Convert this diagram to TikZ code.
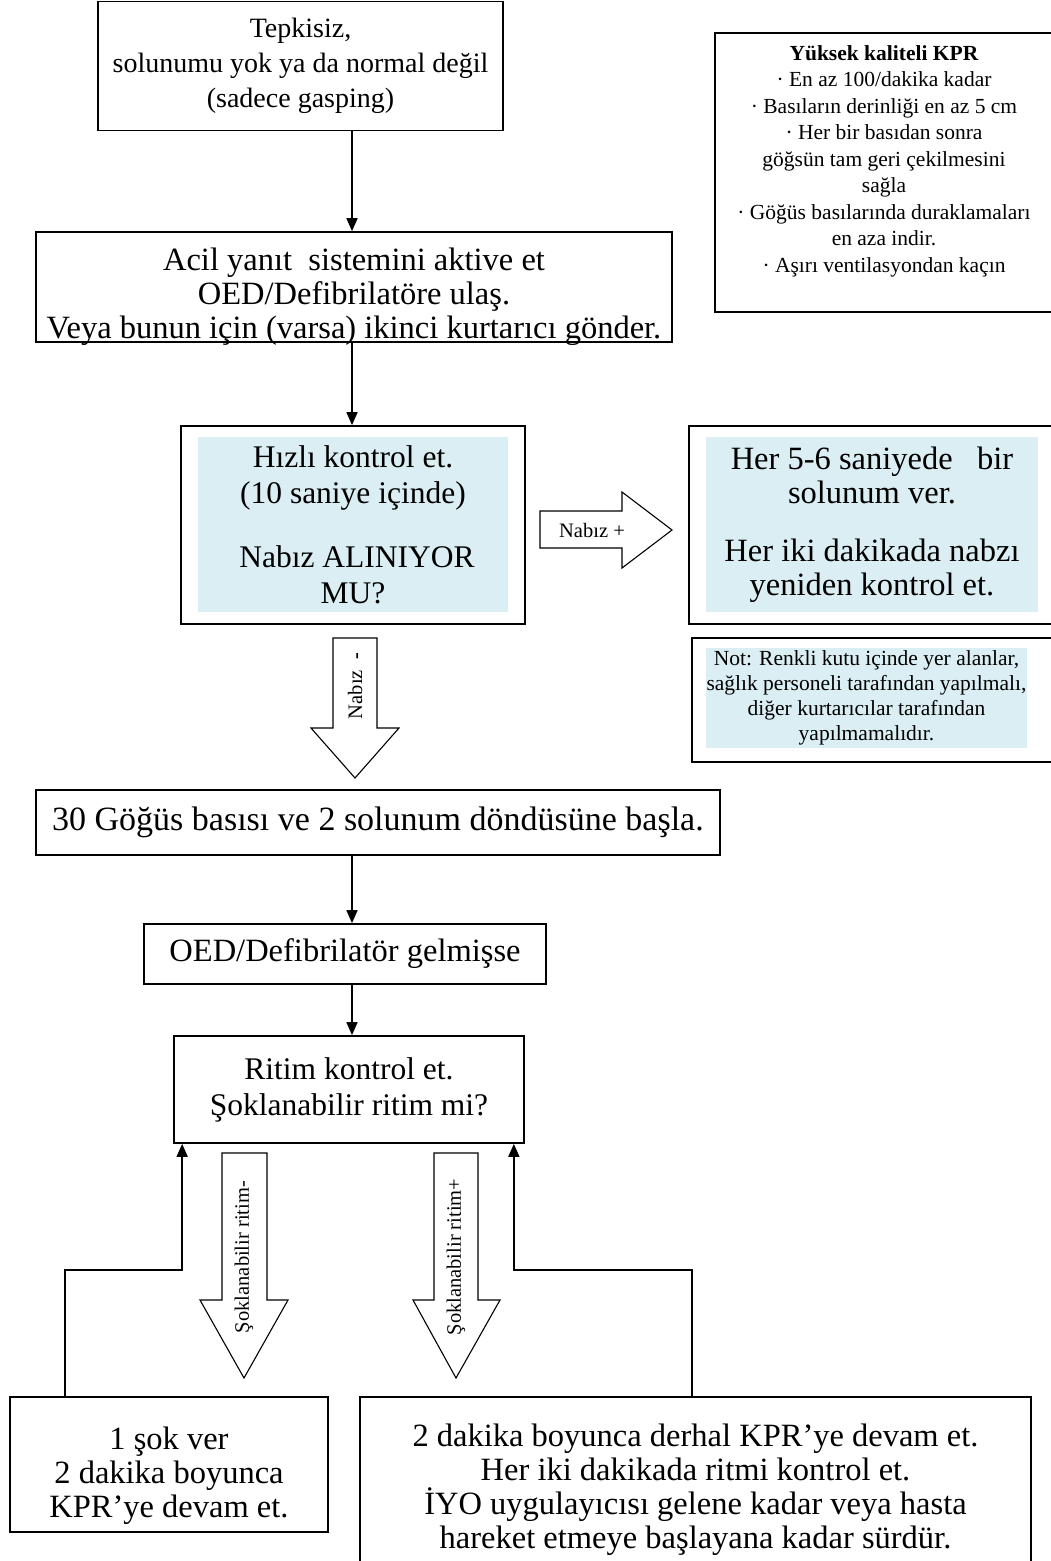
\documentclass[tikz,border=0pt]{standalone}
\usepackage{fontspec}
\setmainfont{Liberation Serif}
\usetikzlibrary{arrows.meta, calc}
\definecolor{paleblue}{RGB}{218, 238, 243}

\newcommand{\toptxt}{\fontsize{28}{35}\selectfont}
\newcommand{\bigtxt}{\fontsize{32.5}{34}\selectfont}
\newcommand{\widetxt}{\fontsize{34}{35}\selectfont}
\newcommand{\checkfont}{\fontsize{31.5}{36}\selectfont}
\newcommand{\notetxt}{\fontsize{21.5}{25}\selectfont}
\newcommand{\kprtxt}{\fontsize{21.5}{26.5}\selectfont}
\newcommand{\lbltxt}{\fontsize{20.5}{24}\selectfont}

\begin{document}
\begin{tikzpicture}[x=1pt, y=-1pt,
  box/.style={draw, line width=1.7pt, inner sep=0pt},
  txt/.style={align=center, font=\bigtxt},
  shade/.style={fill=paleblue, inner sep=0pt, align=center, font=\bigtxt},
  arr/.style={line width=1.7pt, -{Triangle[length=13pt, width=11pt]}},
  blockarrow/.style={draw, line width=1.1pt, fill=white},
  lbl/.style={font=\lbltxt, inner sep=0pt}]

  \useasboundingbox (0,0) rectangle (1051,1561);

  % left column
  \node[box, txt, font=\toptxt, minimum width=405pt, minimum height=129pt] (tepki) at (300.5,66) {Tepkisiz,\\solunumu yok ya da normal değil\\(sadece gasping)};

  \node[box, minimum width=636pt, minimum height=110pt] (alarm) at (354,287) {};
  \node[txt] (alarmtxt) at (354,297) {Acil yanıt\ \ sistemini aktive et\\OED/Defibrilatöre ulaş.\\Veya bunun için (varsa) ikinci kurtarıcı gönder.};

  \node[box, minimum width=344pt, minimum height=198pt] (check) at (353,525) {};
  \node[shade, font=\checkfont, minimum width=310pt, minimum height=175pt] (checktxt) at (353,524.5) {Hızlı kontrol et.\\(10 saniye içinde)\\[28pt]\ Nabız ALINIYOR\\MU?};

  \node[box, txt, font=\widetxt, minimum width=684pt, minimum height=65pt] (cpr) at (378,822.5) {30 Göğüs basısı ve 2 solunum döndüsüne başla.};
  \node[box, txt, minimum width=402pt, minimum height=60pt] (oed) at (345,954) {OED/Defibrilatör gelmişse};
  \node[box, txt, font=\checkfont, minimum width=350pt, minimum height=107pt] (ritim) at (349,1089.5) {Ritim kontrol et.\\Şoklanabilir ritim mi?};

  % bottom row
  \node[box, minimum width=318pt, minimum height=135pt] (shock) at (169,1464.5) {};
  \node[txt] (shocktxt) at (169,1476) {1 şok ver\\2 dakika boyunca\\KPR’ye devam et.};

  \node[box, minimum width=671pt, minimum height=165pt] (cont) at (695.5,1479.5) {};
  \node[txt] (conttxt) at (695.5,1490) {2 dakika boyunca derhal KPR’ye devam et.\\Her iki dakikada ritmi kontrol et.\\İYO uygulayıcısı gelene kadar veya hasta\\hareket etmeye başlayana kadar sürdür.};

  % right column
  \node[box, minimum width=341pt, minimum height=279pt] (kpr) at (885.5,172.5) {};
  \node[align=center, font=\kprtxt] (kprlist) at (884,161) {\textbf{Yüksek kaliteli KPR}\\· En az 100/dakika kadar\\· Basıların derinliği en az 5 cm\\· Her bir basıdan sonra\\göğsün tam geri çekilmesini\\sağla\\· Göğüs basılarında duraklamaları\\en aza indir.\\· Aşırı ventilasyondan kaçın};

  \node[box, minimum width=366pt, minimum height=198pt] (breath) at (872,525) {};
  \node[shade, minimum width=332pt, minimum height=175pt] (breathtxt) at (872,524.5) {Her 5-6 saniyede\ \ \ bir\\solunum ver.\\[24pt]Her iki dakikada nabzı\\yeniden kontrol et.};

  \node[box, minimum width=363pt, minimum height=124pt] (note) at (873.5,700) {};
  \node[shade, font=\notetxt, minimum width=321pt, minimum height=100pt] (notetxt) at (866.5,698) {Not: Renkli kutu içinde yer alanlar,\\sağlık personeli tarafından yapılmalı,\\diğer kurtarıcılar tarafından\\yapılmamalıdır.};

  % connectors
  \coordinate (col) at (352,0);
  \draw[arr] (tepki.south -| col) -- (alarm.north -| col);
  \draw[arr] (alarm.south -| col) -- (check.north -| col);
  \draw[arr] (cpr.south -| col) -- (oed.north -| col);
  \draw[arr] (oed.south -| col) -- (ritim.north -| col);

  \coordinate (lbend) at (65,1270);
  \coordinate (rbend) at (692,1270);
  \draw[arr] (shock.north -| lbend) -- (lbend) -| ([xshift=9pt]ritim.south west);
  \draw[arr] (cont.north -| rbend) -- (rbend) -| ([xshift=-11pt]ritim.south east);

  % block arrows
  \draw[blockarrow] (540,511) -- (622,511) -- (622,492) -- (672,530) -- (622,568) -- (622,548) -- (540,548) -- cycle;
  \node[lbl] (pulsepos) at (592,530) {Nabız +};

  \draw[blockarrow] (333,638) -- (377,638) -- (377,728) -- (399,728) -- (355,778) -- (311,728) -- (333,728) -- cycle;
  \node[lbl, rotate=90] (pulseneg) at (355,686) {Nabız\ \ \textbf{-}};

  \draw[blockarrow] (222,1153) -- (267,1153) -- (267,1300) -- (288,1300) -- (244,1378) -- (200,1300) -- (222,1300) -- cycle;
  \node[lbl, rotate=90] (rhythmneg) at (244,1257) {Şoklanabilir ritim-};

  \draw[blockarrow] (434,1153) -- (478,1153) -- (478,1300) -- (500,1300) -- (456,1378) -- (413,1300) -- (434,1300) -- cycle;
  \node[lbl, rotate=90] (rhythmpos) at (456,1257) {Şoklanabilir ritim+};
\end{tikzpicture}
\end{document}
